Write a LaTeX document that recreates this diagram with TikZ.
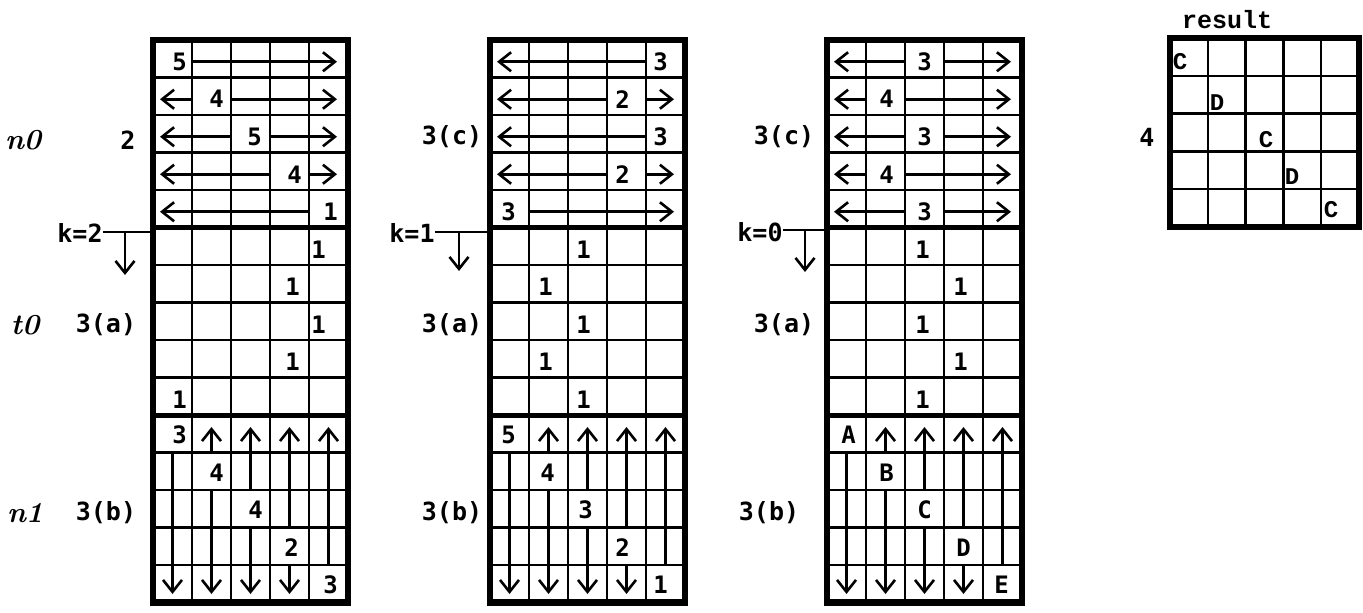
\documentclass[tikz,border=0pt]{standalone}
\usepackage{fontspec}
\newfontfamily\monof{DejaVu Sans Mono}
\newfontfamily\resf{Liberation Mono}
\usetikzlibrary{arrows.meta}
\tikzset{
  gl/.style={line width=2.4pt},
  zl/.style={line width=5pt},
  bd/.style={line width=6.5pt, line join=miter},
  ar/.style={line width=2.6pt, -{Straight Barb[length=12pt,width=19pt]}},
  cell/.style={inner sep=0pt, font=\fontsize{24}{24}\selectfont\monof\bfseries},
  lab/.style={inner sep=0pt, font=\fontsize{25}{25}\selectfont\monof\bfseries},
  ital/.style={inner sep=0pt, font=\fontsize{29}{29}\selectfont\bfseries\itshape},
  res/.style={inner sep=0pt, font=\fontsize{24}{24}\selectfont\resf\bfseries},
}
% grid with origin x
\newcommand\GridDraw[1]{%
  \foreach \k in {1,...,4} \draw[gl] ({#1+39*\k},40) -- ({#1+39*\k},602.5);
  \foreach \k in {1,...,14} \draw[gl] (#1,{40+37.5*\k}) -- ({#1+195},{40+37.5*\k});
  \draw[zl] (#1,227.5) -- ({#1+195},227.5);
  \draw[zl] (#1,415) -- ({#1+195},415);
  \draw[bd] (#1,40) rectangle ({#1+195},602.5);
}
\newcommand\ZoneOne[2]{%
  \foreach \r/\c/\t/\d in {#2}{
    \pgfmathsetmacro\yy{40+37.5*(\r-0.5)+3}
    \node[cell] (g#1r\r) at ({#1+39*(\c-0.5)+\d},\yy) {\t};
    \ifnum\c>1 \draw[ar] ({#1+39*(\c-1)},\yy) -- ({#1+7},\yy); \fi
    \ifnum\c<5 \draw[ar] ({#1+39*\c},\yy) -- ({#1+184},\yy); \fi
  }
}
\newcommand\ZoneTwo[2]{%
  \foreach \r/\c/\t/\d in {#2}{
    \node[cell] (g#1r\r) at ({#1+39*(\c-0.5)+\d},{40+37.5*(\r-0.5)+3}) {\t};
  }
}
\newcommand\ZoneThree[2]{%
  \foreach \c/\t/\d in {#2}{
    \pgfmathsetmacro\xx{#1+39*(\c-0.5)}
    \node[cell] (g#1c\c) at ({\xx+\d},{40+37.5*(9.5+\c)+1}) {\t};
    \ifnum\c>1 \draw[ar] (\xx,{40+37.5*(9+\c)}) -- (\xx,427); \fi
    \ifnum\c<5 \draw[ar] (\xx,{40+37.5*(10+\c)}) -- (\xx,594); \fi
  }
}
\begin{document}
\begin{tikzpicture}[x=1pt,y=-1pt]
\useasboundingbox (0,0) rectangle (1363,613);
\GridDraw{153}
\GridDraw{490}
\GridDraw{827}
% grid 1
\ZoneOne{153}{1/1/5/7,2/2/4/5,3/3/5/4,4/4/4/5,5/5/1/2}
\ZoneTwo{153}{6/5/1/-10,7/4/1/3,8/5/1/-10,9/4/1/3,10/1/1/7}
\ZoneThree{153}{1/3/7,2/4/5,3/4/5,4/2/2,5/3/2}
% grid 2
\ZoneOne{490}{1/5/3/-5,2/4/2/-4,3/5/3/-5,4/4/2/-4,5/1/3/-1}
\ZoneTwo{490}{6/3/1/-4,7/2/1/-3,8/3/1/-4,9/2/1/-3,10/3/1/-4}
\ZoneThree{490}{1/5/-1,2/4/-1,3/3/-2,4/2/-4,5/1/-5}
% grid 3
\ZoneOne{827}{1/3/3/0,2/2/4/1,3/3/3/0,4/2/4/1,5/3/3/0}
\ZoneTwo{827}{6/3/1/-2,7/4/1/-3,8/3/1/-2,9/4/1/-3,10/3/1/-2}
\ZoneThree{827}{1/A/2,2/B/1,3/C/0,4/D/0,5/E/-1}
% side labels
\node[ital] (ln0) at (23,140) {n0};
\node[ital] (lt0) at (25,325) {t0};
\node[ital] (ln1) at (25,513) {n1};
\node[lab] (a2) at (128,140) {2};
\node[lab] (a3a) at (106,325) {3(a)};
\node[lab] (a3b) at (106,513) {3(b)};
\node[lab] (b3c) at (452,137) {3(c)};
\node[lab] (b3a) at (452,325) {3(a)};
\node[lab] (b3b) at (452,513) {3(b)};
\node[lab] (c3c) at (784,137) {3(c)};
\node[lab] (c3a) at (784,325) {3(a)};
\node[lab] (c3b) at (769,513) {3(b)};
\node[lab] (r4) at (1147,137) {4};
% k markers
\node[lab] (k2) at (80,233) {k=2};
\coordinate (k2e) at (153,232);
\coordinate (k2a) at (125,232);
\coordinate (k2b) at (125,275);
\draw[gl] (k2.east |- k2e) -- (k2e);
\draw[ar] (k2a) -- (k2b);
\node[lab] (k1) at (412,233) {k=1};
\coordinate (k1e) at (488,232);
\coordinate (k1a) at (459,232);
\coordinate (k1b) at (459,271);
\draw[gl] (k1.east |- k1e) -- (k1e);
\draw[ar] (k1a) -- (k1b);
\node[lab] (k0) at (760,232) {k=0};
\coordinate (k0e) at (827,230);
\coordinate (k0a) at (805,230);
\coordinate (k0b) at (805,272);
\draw[gl] (k0.east |- k0e) -- (k0e);
\draw[ar] (k0a) -- (k0b);
% result grid
\foreach \k in {1,...,4} {
  \draw[gl] ({1170+37.8*\k},38) -- ({1170+37.8*\k},227);
  \draw[gl] (1170,{38+37.8*\k}) -- (1359,{38+37.8*\k});
}
\draw[bd] (1170,38) rectangle (1359,227);
\node[res, font=\fontsize{25}{25}\selectfont\resf\bfseries] (rt) at (1227,20) {result};
\node[res] (rc1) at (1180,62) {C};
\node[res] (rd2) at (1217,103) {D};
\node[res] (rc3) at (1266,140) {C};
\node[res] (rd4) at (1292,177) {D};
\node[res] (rc5) at (1331,210) {C};
\end{tikzpicture}
\end{document}
